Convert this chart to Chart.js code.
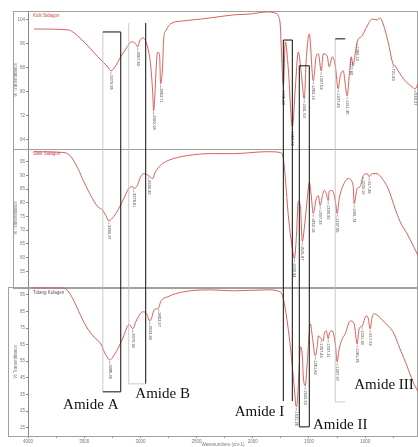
<!DOCTYPE html>
<html>
<head>
<meta charset="utf-8">
<script src="https://cdn.jsdelivr.net/npm/chart.js@4"></script>
<style>
  html, body { margin: 0; padding: 0; background: #fff; }
</style>
</head>
<body>
<canvas id="ftir" width="418" height="447"></canvas>
<script>
// wavenumber (cm-1) and % transmittance
const topWave = [3947,3645,3601,3530,3441,3379,3326,3290,3263,3219,3175,3130,3077,3041,3024,3006,2979,2953,2926,2908,2891,2882,2873,2855,2846,2829,2820,2802,2793,2775,2731,2616,2465,2376,2172,2021,1870,1799,1772,1755,1746,1728,1710,1684,1648,1622,1595,1568,1542,1524,1497,1462,1435,1417,1391,1373,1338,1320,1293,1266,1240,1222,1196,1160,1142,1124,1107,1089,1071,1027,982,938,894,867,840,796,752,734,707,645,583,556,530];
const topT = [101,100.7,100,97.7,94.3,91.7,89.7,88.3,87,88.7,91.7,94.3,96.7,96,95,97,98,97,93.3,88.7,80,73.7,77.7,91,93.3,92,82.7,88.7,97.7,100.3,102.7,103.7,104.3,104.7,105.7,106,106.7,106.3,105.3,102,94.3,82,96.7,87.7,68.3,81,93.3,86,77.7,91,99.3,83.7,92,92.7,87,92.7,92,88.3,91.7,88.7,81,85.3,87,78.7,85.3,91.7,88.7,92.7,96.7,98.7,102,104.3,104,104.7,102.7,96.7,89.3,88.7,87,83.7,81.7,81,82.7];

const midWave = [3947,3681,3618,3556,3503,3441,3379,3334,3308,3281,3237,3192,3148,3104,3068,3059,3033,2997,2971,2926,2891,2873,2846,2802,2704,2580,2376,2172,1870,1755,1728,1710,1684,1648,1630,1613,1595,1577,1559,1542,1515,1497,1480,1462,1435,1417,1400,1382,1364,1346,1329,1320,1293,1266,1249,1231,1196,1151,1107,1098,1071,1045,1018,982,965,938,894,849,796,734,690,628,574,530];
const midT = [98.6,98.3,96.8,92.5,87.7,82.6,78.6,77.2,75.4,73.5,75,77.9,81.5,85.2,85.9,85.2,85.9,89.5,90.6,89.9,88.8,90.6,92.5,94.3,96.1,97.2,97.9,97.9,98.6,98.3,96.1,88.8,75.4,63.4,59.7,67,80.5,79,65.9,70.6,81.5,87.4,82.6,76.1,81.5,82.6,79,82.3,84.5,83.4,80.8,84.1,84.5,80.8,76.1,81.5,86.3,88.8,86.3,79.7,85.2,85.9,89.9,90.6,89.5,90.6,90.6,88.8,85.2,77.9,73.2,68.8,64.5,60.8];

const botWave = [3956,3689,3645,3601,3547,3485,3414,3352,3326,3290,3272,3237,3192,3148,3113,3095,3068,3041,3015,2979,2944,2917,2900,2882,2855,2837,2820,2757,2616,2376,2172,1870,1755,1728,1693,1657,1630,1613,1604,1586,1577,1559,1551,1533,1515,1488,1471,1444,1426,1417,1391,1373,1364,1346,1329,1320,1293,1266,1249,1231,1204,1178,1133,1098,1071,1054,1027,991,974,956,938,920,885,840,796,752,690,628,574,530];
const botT = [99.2,99.2,97.4,92.6,84.8,76.3,69.7,65.5,61.3,57,55.8,58.3,63.7,70.3,76.3,76.9,74.5,78.7,82.3,84.8,83.6,79.3,81.1,85.4,86.6,87.2,90.8,93.8,96.8,98,97.4,98,96.8,92.6,78.7,58.3,38.4,27.5,30.5,52.2,63.7,58.3,46.2,40.2,54.6,77.5,70.3,58.3,64.3,70.3,68.5,67.3,71.5,73.3,68.5,71.5,73.3,65.5,54.6,62.5,68.5,71.5,79.3,77.5,65.5,74.5,76.3,82.3,81.1,74.5,81.7,83.6,82.3,79.3,76.3,72.7,62.5,52.2,42.6,36.6];

// peak labels: [wavenumber in the series, printed text]
const topPeaks = [[3263,'3276.95'],[3024,'3067.82'],[2882,'2922.04'],[2820,'2852.71'],[1728,'1745.23'],[1648,'1652.80'],[1542,'1541.63'],[1462,'1456.19'],[1391,'1397.52'],[1240,'1237.46'],[1160,'1161.35'],[1124,'1117.80'],[1071,'1080.12'],[752,'721.40'],[556,'593.27']];
const midPeaks = [[3281,'3284.27'],[3059,'3078.51'],[2926,'2924.30'],[1630,'1632.94'],[1559,'1541.87'],[1462,'1452.18'],[1400,'1397.33'],[1329,'1336.90'],[1249,'1237.65'],[1098,'1081.74'],[1018,'1032.16'],[965,'917.28']];
const botPeaks = [[3272,'3285.46'],[3068,'3076.92'],[2917,'2923.84'],[2837,'2853.27'],[1613,'1631.25'],[1533,'1540.33'],[1444,'1451.82'],[1391,'1397.46'],[1329,'1337.21'],[1249,'1237.67'],[1071,'1081.25'],[1027,'1031.64'],[956,'917.62']];

const panelNames = ['Kulit Sidagon', 'Sisik Sidagon', 'Tulang Kolagen'];
const xTicks = [4000,3750,3500,3250,3000,2750,2500,2250,2000,1750,1500,1250,1000,750];
const topTicks = [104,100,96,92,88,84,80,76,72,68,64];
const midTicks = [95,90,85,80,75,70,65,60,55];
const botTicks = [95,90,85,80,75,70,65,60,55,50,45,40,35,30,25,20,15,10];

const pts = (w, t) => w.map((v, i) => ({x: v, y: t[i]}));
const small = {family: 'Liberation Sans', size: 4.5};

function yAxis(min, max, weight, ticks) {
  return {
    type: 'linear', position: 'left', stack: 'panels', stackWeight: weight,
    min: min, max: max,
    afterBuildTicks: s => { s.ticks = ticks.map(v => ({value: v})); },
    afterFit: s => { s.width = 15; },
    ticks: {font: small, color: '#777', padding: 1},
    grid: {drawOnChartArea: false, tickLength: 2, color: '#888'},
    border: {color: '#888'},
    title: {display: true, text: '% Transmittance', font: small, color: '#777', padding: 0}
  };
}

function line(data, axis) {
  return {
    data: data, yAxisID: axis, borderColor: '#d2504a', borderWidth: 0.9,
    pointRadius: 0, cubicInterpolationMode: 'monotone', fill: false
  };
}

const decor = {
  id: 'decor',
  beforeDatasetsDraw(chart) {
    const ctx = chart.ctx;
    ctx.save();
    ['yTop', 'yMid', 'yBot'].forEach((id, i) => {
      const s = chart.scales[id];
      const left = i === 2 ? 8.5 : 13.5;
      ctx.strokeStyle = '#a0a0a0';
      ctx.lineWidth = 1;
      ctx.strokeRect(left, Math.round(s.top) + 0.5, chart.width - left - 0.5, Math.round(s.bottom - s.top));
      ctx.fillStyle = i === 2 ? '#555' : '#c84a44';
      ctx.font = '4.5px "Liberation Sans"';
      ctx.textBaseline = 'top';
      ctx.fillText(panelNames[i], chart.chartArea.left + 5, s.top + 3);
    });
    ctx.restore();
  },
  afterDatasetsDraw(chart) {
    const ctx = chart.ctx;
    const x = chart.scales.x;
    const px = w => x.getPixelForValue(w);
    const py = (id, v) => chart.scales[id].getPixelForValue(v);

    // peak labels
    ctx.save();
    ctx.font = '4px "Liberation Sans"';
    ctx.fillStyle = '#444';
    ctx.strokeStyle = '#777';
    ctx.lineWidth = 0.6;
    [[topPeaks, topWave, topT, 'yTop'], [midPeaks, midWave, midT, 'yMid'], [botPeaks, botWave, botT, 'yBot']].forEach(([peaks, w, t, id]) => {
      peaks.forEach(([wave, txt]) => {
        const i = w.indexOf(wave);
        const xx = px(wave), yy = py(id, t[i]);
        ctx.beginPath();
        ctx.moveTo(xx, yy + 1);
        ctx.lineTo(xx, yy + 4);
        ctx.stroke();
        ctx.save();
        ctx.translate(xx, yy + 4.5);
        ctx.rotate(Math.PI / 2);
        ctx.textBaseline = 'middle';
        ctx.textAlign = 'left';
        ctx.fillText(txt, 0, 0);
        ctx.restore();
      });
    });
    ctx.restore();

    // amide region boxes
    const seg = (w1, a1, v1, w2, a2, v2, dark) => {
      ctx.beginPath();
      ctx.strokeStyle = dark ? '#222' : '#bdbdbd';
      ctx.lineWidth = dark ? 1.1 : 0.8;
      ctx.moveTo(px(w1), py(a1, v1));
      ctx.lineTo(px(w2), py(a2, v2));
      ctx.stroke();
    };
    ctx.save();
    // Amide A
    seg(3334, 'yTop', 100, 3334, 'yBot', 36.6, false);
    seg(3334, 'yTop', 100, 3175, 'yTop', 100, true);
    seg(3175, 'yTop', 100, 3175, 'yBot', 36.6, true);
    seg(3334, 'yBot', 36.6, 3175, 'yBot', 36.6, true);
    // Amide B
    seg(3104, 'yTop', 103, 3104, 'yBot', 41.4, false);
    seg(2953, 'yTop', 103, 2953, 'yBot', 41.4, true);
    seg(3104, 'yBot', 41.4, 2953, 'yBot', 41.4, false);
    // Amide I
    seg(1728, 'yTop', 97.3, 1648, 'yTop', 97.3, true);
    seg(1728, 'yTop', 97.3, 1728, 'yBot', 31.1, true);
    seg(1648, 'yTop', 97.3, 1648, 'yBot', 31.1, true);
    // Amide II
    seg(1586, 'yTop', 88.7, 1497, 'yTop', 88.7, true);
    seg(1586, 'yTop', 88.7, 1586, 'yBot', 15.5, true);
    seg(1497, 'yTop', 88.7, 1497, 'yBot', 15.5, true);
    seg(1586, 'yBot', 15.5, 1497, 'yBot', 15.5, true);
    // Amide III
    seg(1266, 'yTop', 97.7, 1266, 'yBot', 30.5, false);
    seg(1266, 'yTop', 97.7, 1178, 'yTop', 97.7, true);
    seg(1266, 'yBot', 30.5, 1178, 'yBot', 30.5, false);

    ctx.font = '15px "Liberation Serif"';
    ctx.fillStyle = '#111';
    ctx.textAlign = 'center';
    ctx.textBaseline = 'middle';
    [['Amide A', 3441, 28.7], ['Amide B', 2802, 35.4], ['Amide I', 1941, 24.5], ['Amide II', 1222, 16.7], ['Amide III', 832, 40.8]]
      .forEach(([txt, w, v]) => ctx.fillText(txt, px(w), py('yBot', v)));
    ctx.restore();
  }
};

new Chart(document.getElementById('ftir'), {
  type: 'line',
  data: {
    datasets: [
      line(pts(topWave, topT), 'yTop'),
      line(pts(midWave, midT), 'yMid'),
      line(pts(botWave, botT), 'yBot')
    ]
  },
  options: {
    responsive: false,
    animation: false,
    layout: {padding: {top: 11, left: 13, right: 0, bottom: 0}},
    plugins: {legend: {display: false}, tooltip: {enabled: false}},
    scales: {
      x: {
        type: 'linear', min: 530, max: 4000, reverse: true,
        afterBuildTicks: s => { s.ticks = xTicks.map(v => ({value: v})); },
        afterFit: s => { s.height = 11; },
        ticks: {font: small, color: '#777', padding: 1, maxRotation: 0, autoSkip: false,
                callback: v => v % 500 === 0 ? v : ''},
        grid: {drawOnChartArea: false, tickLength: 2, color: '#888'},
        border: {color: '#888'},
        title: {display: true, text: 'Wavenumbers (cm-1)', font: small, color: '#777', padding: 0}
      },
      // left stacked axes are laid out last-first, so the bottom panel is declared first
      yBot: yAxis(10, 99.5, 149, botTicks),
      yMid: yAxis(49.2, 99.7, 139, midTicks),
      yTop: yAxis(61, 107, 138, topTicks)
    }
  },
  plugins: [decor]
});
</script>
</body>
</html>
